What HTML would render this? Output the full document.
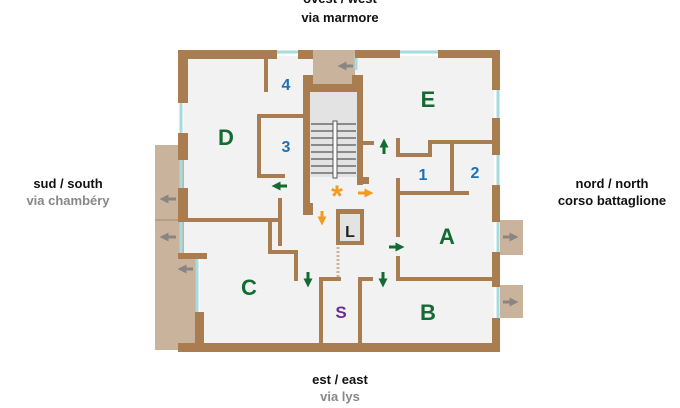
<!DOCTYPE html>
<html><head><meta charset="utf-8"><style>
html,body{margin:0;padding:0;background:#fff;}
svg{display:block}
text{font-family:"Liberation Sans",Arial,sans-serif;font-weight:bold;}
</style></head><body>
<svg width="680" height="408" viewBox="0 0 680 408" xmlns="http://www.w3.org/2000/svg">
<defs>
<marker id="mg" markerWidth="3" markerHeight="3" refX="0.5" refY="1.5" orient="auto" markerUnits="strokeWidth"><path d="M0,0 L3,1.5 L0,3z" fill="#136b33"/></marker>
<marker id="mo" markerWidth="3" markerHeight="3" refX="0.5" refY="1.5" orient="auto" markerUnits="strokeWidth"><path d="M0,0 L3,1.5 L0,3z" fill="#f29a21"/></marker>
<marker id="mx" markerWidth="3" markerHeight="3" refX="0.5" refY="1.5" orient="auto" markerUnits="strokeWidth"><path d="M0,0 L3,1.5 L0,3z" fill="#8a8580"/></marker>
</defs>
<!-- balconies -->
<g fill="#c9b39c">
<rect x="155" y="145" width="30" height="205"/>
<rect x="178" y="253" width="20" height="97"/>
<rect x="500" y="220" width="23" height="35"/>
<rect x="500" y="285" width="23" height="33"/>
</g>
<line x1="155" y1="220" x2="178" y2="220" stroke="#a88866" stroke-width="1"/>
<!-- floor -->
<path d="M184 56 H494 V346 H200 V256 H184 Z" fill="#f2f2f2"/>
<rect x="313" y="50" width="42" height="36" fill="#c9b39c"/>
<rect x="310" y="92" width="47" height="85" fill="#e3e3e3"/>
<!-- stairs -->
<g stroke="#555" stroke-width="1.3">
<line x1="311" y1="124" x2="356" y2="124"/><line x1="311" y1="131" x2="356" y2="131"/>
<line x1="311" y1="138" x2="356" y2="138"/><line x1="311" y1="145" x2="356" y2="145"/>
<line x1="311" y1="152" x2="356" y2="152"/><line x1="311" y1="159" x2="356" y2="159"/>
<line x1="311" y1="166" x2="356" y2="166"/><line x1="311" y1="173" x2="356" y2="173"/>
</g>
<rect x="333" y="121" width="4" height="57" fill="#fff" stroke="#555" stroke-width="1"/>
<!-- windows -->
<g stroke="#a6dbe0" stroke-width="3">
<line x1="181" y1="103" x2="181" y2="133"/><line x1="181" y1="160" x2="181" y2="188"/>
<line x1="181" y1="222" x2="181" y2="253"/><line x1="197" y1="258" x2="197" y2="312"/>
<line x1="277" y1="52" x2="300" y2="52"/><line x1="400" y1="52" x2="438" y2="52"/>
<line x1="356" y1="55" x2="356" y2="70"/>
<line x1="498" y1="90" x2="498" y2="118"/><line x1="498" y1="155" x2="498" y2="185"/>
<line x1="498" y1="222" x2="498" y2="252"/><line x1="498" y1="287" x2="498" y2="318"/>
</g>
<!-- outer walls -->
<g fill="#a97d50">
<rect x="178" y="50" width="99" height="9"/>
<rect x="298" y="50" width="15" height="9"/>
<rect x="355" y="50" width="45" height="8"/>
<rect x="438" y="50" width="62" height="8"/>
<rect x="178" y="50" width="10" height="53"/>
<rect x="178" y="133" width="10" height="27"/>
<rect x="178" y="188" width="10" height="34"/>
<rect x="178" y="218" width="14" height="4"/>
<rect x="178" y="253" width="29" height="6"/>
<rect x="195" y="312" width="9" height="40"/>
<rect x="178" y="343" width="322" height="9"/>
<rect x="492" y="50" width="8" height="40"/>
<rect x="492" y="118" width="8" height="37"/>
<rect x="492" y="185" width="8" height="37"/>
<rect x="492" y="252" width="8" height="35"/>
<rect x="492" y="318" width="8" height="34"/>
<!-- stair block -->
<rect x="303" y="75" width="7" height="135"/>
<rect x="303" y="84" width="60" height="8"/>
<rect x="303" y="203" width="10" height="12"/>
<rect x="357" y="75" width="6" height="110"/>
<rect x="363" y="177" width="6" height="7"/>
<rect x="303" y="75" width="10" height="10"/>
<rect x="352" y="75" width="10" height="10"/>
</g>
<!-- interior walls -->
<g stroke="#a97d50" stroke-width="4" fill="none" stroke-linecap="square">
<line x1="266" y1="56" x2="266" y2="90"/>
<polyline points="283,176 259,176 259,116 303,116"/>
<polyline points="188,220 280,220 280,200"/>
<polyline points="280,222 280,244"/>
<polyline points="270,222 270,252 296,252 296,279"/>
<polyline points="321,343 321,279 339,279"/>
<polyline points="360,343 360,279 371,279"/>
<polyline points="363,143 372,143"/>
<polyline points="398,140 398,155 430,155 430,142 492,142"/>
<line x1="452" y1="142" x2="452" y2="193"/>
<line x1="398" y1="193" x2="467" y2="193"/>
<line x1="398" y1="180" x2="398" y2="235"/>
<polyline points="398,258 398,279 492,279"/>
</g>
<!-- lift -->
<rect x="336" y="209" width="28" height="36" fill="#a97d50"/>
<rect x="340" y="214" width="20" height="27" fill="#e3e3e3"/>
<line x1="338" y1="247" x2="338" y2="278" stroke="#c9b39c" stroke-width="3" stroke-dasharray="2,2"/>
<!-- balcony arrows -->
<g stroke="#8a8580" stroke-width="3" fill="none">
<path d="M353 66 H345" marker-end="url(#mx)"/>
<path d="M176 199 H167" marker-end="url(#mx)"/>
<path d="M176 237 H167" marker-end="url(#mx)"/>
<path d="M193 269 H185" marker-end="url(#mx)"/>
<path d="M503 237 H511" marker-end="url(#mx)"/>
<path d="M503 302 H511" marker-end="url(#mx)"/>
</g>
<!-- labels -->
<g fill="#136b33" font-size="22" text-anchor="middle">
<text x="226" y="145">D</text><text x="428" y="107">E</text>
<text x="447" y="244">A</text><text x="249" y="295">C</text><text x="428" y="320">B</text>
</g>
<g fill="#1f6fb2" font-size="16" text-anchor="middle">
<text x="286" y="90">4</text><text x="286" y="152">3</text>
<text x="423" y="180">1</text><text x="475" y="178">2</text>
</g>
<text x="341" y="318" fill="#6b2d8e" font-size="17" text-anchor="middle">S</text>
<text x="350" y="237" fill="#222" font-size="16" text-anchor="middle">L</text>
<g stroke="#136b33" stroke-width="3" fill="none">
<path d="M287 186 H279" marker-end="url(#mg)"/>
<path d="M384 154 V146" marker-end="url(#mg)"/>
<path d="M389 247 H397" marker-end="url(#mg)"/>
<path d="M308 272 V280" marker-end="url(#mg)"/>
<path d="M383 272 V280" marker-end="url(#mg)"/>
</g>
<g stroke="#f29a21" stroke-width="3" fill="none">
<path d="M358 193 H366" marker-end="url(#mo)"/>
<path d="M322 211 V218" marker-end="url(#mo)"/>
</g>
<text x="337" y="206" fill="#f29a21" font-size="30" text-anchor="middle">*</text>
<!-- compass texts -->
<g font-size="13" text-anchor="middle" fill="#111">
<text x="340" y="3">ovest / west</text>
<text x="340" y="22">via marmore</text>
<text x="68" y="188">sud / south</text>
<text x="612" y="188">nord / north</text>
<text x="612" y="205">corso battaglione</text>
<text x="340" y="384">est / east</text>
</g>
<g font-size="13" text-anchor="middle" fill="#888">
<text x="68" y="205">via chambéry</text>
<text x="340" y="401">via lys</text>
</g>
</svg>
</body></html>
